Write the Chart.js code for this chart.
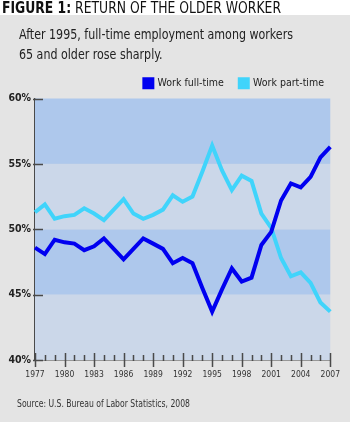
<!DOCTYPE html>
<html><head><meta charset="utf-8">
<script src="https://cdn.jsdelivr.net/npm/chart.js@4.4.1/dist/chart.umd.min.js"></script>
<style>
html,body{margin:0;padding:0;}
body{width:350px;height:422px;overflow:hidden;background:#e4e4e4;position:relative;font-family:"Liberation Sans Narrow","DejaVu Sans Condensed","Liberation Sans",sans-serif;}
#titlebar{position:absolute;left:0;top:0;width:350px;height:15px;background:#fff;}
.fit{position:absolute;white-space:nowrap;transform-origin:0 0;}
#title{left:2px;top:0px;font-size:16.5px;line-height:16px;color:#111;}
#sub{left:19px;top:24px;font-size:14.5px;line-height:20px;color:#222;}
#src{left:17px;top:398px;font-size:10px;line-height:12px;color:#333;}
canvas{position:absolute;left:0;top:0;}
</style></head><body>
<div id="titlebar"></div>
<canvas id="c" width="350" height="422"></canvas>
<div id="title" class="fit" data-w="279"><b>FIGURE 1:</b> RETURN OF THE OLDER WORKER</div>
<div id="sub" class="fit" data-w="274">After 1995, full-time employment among workers<br>65 and older rose sharply.</div>
<div id="src" class="fit" data-w="173">Source: U.S. Bureau of Labor Statistics, 2008</div>
<script>
const years = ['1977','1978','1979','1980','1981','1982','1983','1984','1985','1986','1987','1988','1989','1990','1991','1992','1993','1994','1995','1996','1997','1998','1999','2000','2001','2002','2003','2004','2005','2006','2007'];
const tickYears = ['1977','1980','1983','1986','1989','1992','1995','1998','2001','2004','2007'];
const fullTime = [48.6,48.1,49.2,49.0,48.9,48.4,48.7,49.3,48.5,47.7,48.5,49.3,48.9,48.5,47.4,47.8,47.4,45.5,43.7,45.4,47.0,46.0,46.3,48.8,49.8,52.2,53.5,53.2,54.0,55.5,56.3];
const partTime = [51.3,51.9,50.8,51.0,51.1,51.6,51.2,50.7,51.5,52.3,51.2,50.8,51.1,51.5,52.6,52.1,52.5,54.4,56.4,54.5,53.0,54.1,53.7,51.2,50.1,47.8,46.4,46.7,45.9,44.4,43.7];
const yTicks = [40,45,50,55,60];

document.querySelectorAll('.fit').forEach(el=>{
  const w = el.getBoundingClientRect().width, t = +el.dataset.w;
  el.style.transform = 'scaleX(' + (t/w) + ')';
});

const FONT = '"Liberation Sans Narrow","DejaVu Sans Condensed","Liberation Sans",sans-serif';
const BAND_DARK = '#aec8ec', BAND_LIGHT = '#cbd7e9', AXIS = '#4a4a4a';

const bands = {
  id:'bands',
  beforeDatasetsDraw(chart){
    const {ctx, chartArea:a, scales:{y}} = chart;
    ctx.save();
    for(let i=0;i<yTicks.length-1;i++){
      const y0 = y.getPixelForValue(yTicks[i]), y1 = y.getPixelForValue(yTicks[i+1]);
      ctx.fillStyle = (i%2===0) ? BAND_LIGHT : BAND_DARK;
      ctx.fillRect(a.left, y1, a.right-a.left, y0-y1);
    }
    ctx.restore();
  }
};
const tickMarks = {
  id:'tickMarks',
  afterDraw(chart){
    const {ctx, chartArea:a, scales:{x,y}} = chart;
    ctx.save();
    ctx.strokeStyle = AXIS; ctx.lineWidth = 1.5;
    ctx.beginPath();
    yTicks.forEach(v=>{ const p=Math.round(y.getPixelForValue(v))+0.5; ctx.moveTo(a.left-2,p); ctx.lineTo(a.left+8,p); });
    years.forEach((yr,i)=>{
      const p=Math.round(x.getPixelForValue(i))+0.5;
      if(tickYears.includes(yr)){ ctx.moveTo(p,a.bottom-7); ctx.lineTo(p,a.bottom+7); }
      else { ctx.moveTo(p,a.bottom-5); ctx.lineTo(p,a.bottom+1); }
    });
    ctx.stroke();
    ctx.restore();
  }
};

new Chart(document.getElementById('c'), {
  type:'line',
  data:{labels:years, datasets:[
    {label:'Work full-time', data:fullTime, borderColor:'#0000f0', backgroundColor:'#0000f0', borderWidth:4, pointRadius:0, tension:0},
    {label:'Work part-time', data:partTime, borderColor:'#40d4fb', backgroundColor:'#40d4fb', borderWidth:4, pointRadius:0, tension:0}
  ]},
  options:{
    responsive:false, devicePixelRatio:1, animation:false,
    layout:{padding:{left:0,right:10,top:62,bottom:0}},
    plugins:{
      tooltip:{enabled:false},
      legend:{position:'top', align:'end',
        labels:{boxWidth:8, boxHeight:8, padding:16, color:'#222', font:{family:FONT,size:10.5}}}
    },
    scales:{
      x:{offset:false,
        ticks:{autoSkip:false, maxRotation:0, padding:10, color:'#333', font:{family:FONT,size:8.5},
          callback:(v,i)=> tickYears.includes(years[i]) ? years[i] : ''},
        grid:{display:false, drawTicks:false}, border:{color:AXIS,width:1.5},
        afterFit:s=>{ s.height = 62; }},
      y:{min:40, max:60,
        ticks:{stepSize:5, padding:4, color:'#222', font:{family:FONT,size:10.5,weight:'bold'}, callback:v=>v+'%'},
        grid:{display:false, drawTicks:false}, border:{color:AXIS,width:1.5},
        afterFit:s=>{ s.width = 35; }},
      yPad:{position:'right', display:true, min:40, max:60,
        ticks:{display:false}, grid:{display:false, drawTicks:false}, border:{display:false},
        afterFit:s=>{ s.width = 9; }}
    }
  },
  plugins:[bands, tickMarks]
});
</script>
</body></html>
